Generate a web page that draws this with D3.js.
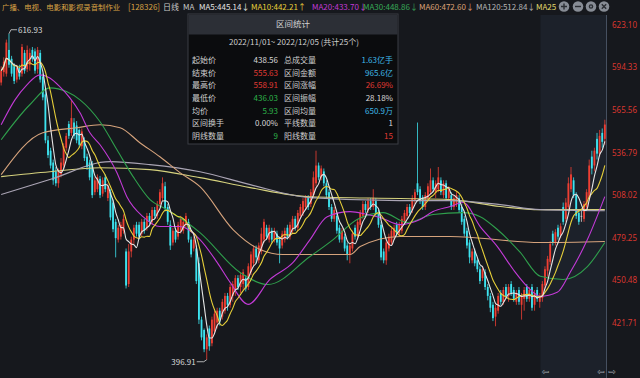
<!DOCTYPE html>
<html>
<head>
<meta charset="utf-8">
<script src="https://cdn.jsdelivr.net/npm/d3@7"></script>
<style>
  html, body { margin: 0; padding: 0; background: #16181d; }
  svg { display: block; font-family: "Noto Sans CJK SC", "Noto Sans", sans-serif; }
</style>
</head>
<body>
<svg id="chart" width="640" height="378"></svg>
<script>
// price labels on the right axis
const yTicks = [623.10, 594.33, 565.56, 536.79, 508.02, 479.25, 450.48, 421.71];

// daily bars, oldest first: [open, high, low, close]
const candles = [
  [584,595,582,592],[591,601,588,598],[590,613,588,611],[606,616.93,594,596],[600,602,588,590],
  [595,597,583,585],[586,596,584,594],[594,596,586,588],[590,610,588,608],[604,606,590,592],
  [593,609,591,606],[596,607,592,604],[606,608,598,600],[605,607,590,592],[593,608,590,606],
  [604,606,584,586],[588,590,572,574],[576,580,543,545],[545,548,533,535],[538,540,526,528],
  [530,532,515,518],[524,527,514,516],[516,526,513,524],[522,533,520,530],[528,543,526,541],
  [540,550,538,548],[556,558,546,548],[550,572,548,560],[557,560,546,548],[555,558,543,545],
  [552,553,540,542],[541,553,539,551],[545,547,531,533],[534,536,525,527],[530,532,518,520],
  [529,531,506,508],[510,520,508,518],[512,522,510,520],[519,521,506,508],[509,520,507,518],
  [520,522,510,512],[506,516,504,514],[510,512,491,493],[503,505,483,485],[490,492,466,479],
  [478,488,476,486],[480,490,478,488],[484,495,482,492],[470,472,445,447],[448,475,446,470],
  [470,480,466,478],[478,488,475,486],[488,490,480,482],[488,490,478,480],[482,492,480,490],
  [490,492,482,484],[486,496,484,494],[494,496,488,490],[490,500,488,498],[498,500,492,494],
  [494,504,492,502],[502,512,500,510],[506,520,504,516],[514,517,497,499],[500,502,488,490],
  [488,491,471,474],[476,486,474,484],[484,486,476,478],[480,490,478,488],[484,494,482,492],
  [484,492,482,490],[488,496,486,494],[490,492,476,478],[478,480,466,468],[472,480,470,478],
  [472,474,448,450],[462,466,421,424],[424,426,410,412],[417,418,402,404],[404,414,396.91,412],
  [418,420,403,406],[408,426,406,424],[416,430,414,428],[422,432,418,430],[430,432,420,424],
  [426,438,424,436],[430,442,428,440],[440,442,430,434],[434,448,432,446],[440,450,436,448],
  [444,454,440,452],[452,454,444,446],[446,456,442,454],[448,458,444,456],[452,454,443,445],
  [446,462,444,460],[456,470,454,468],[462,474,460,472],[472,474,462,466],[464,476,462,474],
  [470,486,468,482],[478,492,476,490],[486,488,478,480],[478,488,476,486],[484,486,476,478],
  [478,486,476,484],[482,484,474,476],[478,480,462,472],[474,484,472,482],[478,486,476,484],
  [486,488,478,480],[480,490,478,488],[484,494,482,492],[492,494,484,486],[486,498,484,496],
  [494,502,492,500],[496,506,494,504],[500,508,498,506],[506,508,498,500],[502,512,500,510],
  [508,524,506,520],[516,538,514,528],[528,530,518,520],[520,528,518,526],[524,526,514,516],
  [516,518,506,508],[510,512,498,500],[500,502,490,492],[492,500,490,498],[494,496,482,484],
  [486,488,476,478],[478,486,476,484],[480,482,470,472],[474,476,464,468],[468,476,462,474],
  [472,484,470,482],[486,488,478,480],[480,492,478,490],[488,498,486,496],[494,504,492,502],
  [502,504,496,498],[498,506,496,504],[504,506,498,500],[500,512,498,506],[504,506,494,496],
  [496,498,486,488],[488,490,464,466],[470,472,462,464],[464,478,461,476],[472,482,470,480],
  [476,486,474,484],[480,488,478,486],[488,490,480,482],[482,490,480,488],[484,494,482,492],
  [490,498,488,496],[494,502,492,500],[500,502,494,496],[498,508,496,506],[504,512,502,510],
  [516,557,508,510],[512,514,502,504],[506,508,498,500],[500,510,498,508],[506,516,504,514],
  [510,526,508,518],[518,520,510,512],[510,518,506,516],[512,527,510,520],[518,520,508,510],
  [508,518,506,516],[516,518,504,506],[506,514,504,512],[508,510,498,500],[500,508,498,506],
  [502,510,500,508],[506,508,496,498],[500,502,488,490],[492,494,480,482],[484,486,472,474],
  [476,478,462,466],[464,472,462,470],[470,472,460,462],[464,466,456,458],[458,460,448,450],
  [452,460,450,458],[456,458,444,446],[446,448,437,440],[440,442,429,432],[434,436,423,425],
  [426,434,419.5,432],[430,442,428,440],[442,444,434,436],[436,446,434,444],[446,448,438,440],
  [440,448,436,446],[448,450,440,442],[444,446,436,438],[436,444,434,442],[444,446,434,436],
  [434,442,424,440],[438,446,430,444],[446,448,436,438],[438,446,436,444],[446,448,430,432],
  [434,444,430,442],[444,446,436,438],[436,442,432,440],
  // 2022/11/01 - 2022/12/05
  [438.56,450,436.03,448],[447,460,445,458],[457,467,453,465],[463,477,461,475],[482,484,474,476],
  [476,485,474,483],[486,488,478,480],[481,489,479,487],[500,503,488,490],[492,506,490,503],
  [500,520,498,516],[512,527,510,522],[518,520,506,508],[508,510,492,494],[496,498,488,490],
  [494,498,490,494],[492,504,490,502],[500,512,498,510],[506,532,504,528],[534,538,522,526],
  [528,540,524,538],[546,550,532,536],[536,552,534,548],[550,553,540,544],[546,558.91,542,555.63]
];
const rangeStart = 208; // first bar of the 区间统计 range

// slower averages: [bar index, value]
const ma20Pts = [[0,555.5],[5.3,572.3],[9.9,582.4],[14.9,589.2],[18.7,587.1],[22.6,581.1],[26.4,573.7],
  [30.3,563.6],[34.1,550.1],[38,542.0],[44.5,523.1],[48.3,507.0],[54.5,493.5],[61,486.8],[68.7,486.8],
  [76.4,478.0],[83,462.6],[88,449.1],[94.9,434.3],[103.3,451.1],[112.2,462.6],[118.7,478.0],[125.3,493.5],
  [134.1,496.9],[140.7,494.9],[145.7,492.9],[153.3,488.1],[161,491.5],[166,496.9],[172.6,500.3],
  [177.6,503.0],[184.1,486.8],[190.7,473.3],[196.8,457.8],[203.3,444.4],[207.2,439.7],[213.7,442.4],
  [218.7,455.9],[225.3,478.0],[232,507.0]];
const ma30Pts = [[0,545.4],[11,569.0],[18.7,580.4],[25.3,577.7],[30.3,572.3],[38,557.5],[44.5,538.6],
  [50.7,520.5],[57.2,505.0],[63.7,498.2],[71.4,489.5],[76.4,482.7],[91.8,455.8],[102.6,447.7],
  [118.7,466.6],[127.6,478.0],[136.8,491.5],[146.8,496.2],[156,489.5],[166,494.9],[177.6,496.2],
  [184.1,493.5],[190.7,484.8],[199.5,469.3],[207.2,453.2],[216,451.1],[225.3,459.8],[232,476.0]];
const ma60Pts = [[0,521.8],[16,550.1],[29,553.5],[38,555.5],[45.7,553.5],[53.3,543.4],[61,533.9],
  [68.7,523.2],[76.4,513.7],[89.1,484.8],[99.5,471.3],[108.3,467.9],[134.1,467.9],[138,473.3],
  [153.3,480.1],[172.6,480.1],[207.2,476.0],[232,476.7]];
const ma120Pts = [[0,508.4],[18.7,518.5],[41.8,530.6],[57.2,528.6],[76.4,523.8],[95.7,515.1],
  [118.7,506.3],[153.3,504.3],[172.6,504.3],[191.8,501.6],[207.2,498.2],[232,497.5]];
const ma250Pts = [[0,520.5],[18.7,523.8],[38,526.5],[57.2,525.2],[76.4,519.8],[95.7,513.1],
  [118.7,506.9],[153.3,505.7],[172.6,505.0],[191.8,500.3],[207.2,498.2],[232,498.2]];

// header legend
const headerTexts = ['广播、电视、电影和影视录音制作业', '[128326]', '日线', 'MA',
  'MA5:445.14↓', 'MA10:442.21↑', 'MA20:433.70↓', 'MA30:448.86↓', 'MA60:472.60↓', 'MA120:512.84↓', 'MA25'];

// 区间统计 panel
const statsRange = '2022/11/01~ 2022/12/05 (共计25个)';
const statsLeftLabels = ['起始价', '结束价', '最高价', '最低价', '均价', '区间换手', '阴线数量'];
const statsLeftValues = ['438.56', '555.63', '558.91', '436.03', '5.93', '0.00%', '9'];
const statsRightLabels = ['总成交量', '区间金额', '区间涨幅', '区间振幅', '区间均量', '平线数量', '阳线数量'];
const statsRightValues = ['1.63亿手', '965.6亿', '26.69%', '28.18%', '650.9万', '1', '15'];

// ---------------------------------------------------------------

const svg = d3.select('#chart');
const plotRight = 606;

const colors = {
  up: '#ee3f33', down: '#3de3ef', flat: '#d8d8d8',
  ma5: '#e4e4e4', ma10: '#e6cf3a', ma20: '#c23ad6', ma30: '#2f9f4c',
  ma60: '#d6a37c', ma120: '#aaa4b4', ma250: '#d6d27e',
  axis: '#d9372f'
};

const x = d3.scaleBand()
  .domain(d3.range(candles.length))
  .range([0, plotRight])
  .paddingInner(0.3)
  .paddingOuter(0.1);
const xc = i => x(i) + x.bandwidth() / 2;
const xIdx = d3.scaleLinear().domain([0, candles.length - 1]).range([xc(0), xc(candles.length - 1)]);

const y = d3.scaleLinear().domain([421.71, 623.10]).range([323, 24.6]);

// background and selected range
svg.append('rect').attr('width', 640).attr('height', 378).attr('fill', '#16181d');
svg.append('rect')
  .attr('x', x(rangeStart) - 1).attr('y', 15)
  .attr('width', plotRight - x(rangeStart) + 1).attr('height', 363)
  .attr('fill', '#1c212a');
svg.append('line')
  .attr('x1', plotRight + 0.5).attr('x2', plotRight + 0.5).attr('y1', 15).attr('y2', 378)
  .attr('stroke', '#465060').attr('stroke-width', 1);

// candles
const bars = svg.append('g').selectAll('g').data(candles).join('g');
const barColor = d => d[3] > d[0] ? colors.up : d[3] < d[0] ? colors.down : colors.flat;
bars.append('line')
  .attr('x1', (d, i) => xc(i)).attr('x2', (d, i) => xc(i))
  .attr('y1', d => y(d[1])).attr('y2', d => y(d[2]))
  .attr('stroke', barColor).attr('stroke-width', 0.8);
bars.append('rect')
  .attr('x', (d, i) => x(i)).attr('width', x.bandwidth())
  .attr('y', d => y(Math.max(d[0], d[3])))
  .attr('height', d => Math.max(0.8, Math.abs(y(d[0]) - y(d[3]))))
  .attr('fill', barColor);

// moving averages
const closes = candles.map(d => d[3]);
const movingAvg = (vals, n) => vals.map((v, i) => d3.mean(vals.slice(Math.max(0, i - n + 1), i + 1)));

const lineIdx = d3.line().x(d => xIdx(d[0])).y(d => y(d[1])).curve(d3.curveMonotoneX);
const lineBar = d3.line().x((d, i) => xc(i)).y(d => y(d)).curve(d3.curveMonotoneX);

const maGroup = svg.append('g').attr('fill', 'none').attr('stroke-width', 1.1);
[[ma250Pts, colors.ma250], [ma120Pts, colors.ma120], [ma60Pts, colors.ma60],
 [ma30Pts, colors.ma30], [ma20Pts, colors.ma20]].forEach(([pts, c]) => {
  maGroup.append('path').attr('d', lineIdx(pts)).attr('stroke', c);
});
maGroup.append('path').attr('d', lineBar(movingAvg(closes, 10))).attr('stroke', colors.ma10);
maGroup.append('path').attr('d', lineBar(movingAvg(closes, 5))).attr('stroke', colors.ma5);

// highest / lowest markers
const hiIdx = d3.maxIndex(candles, d => d[1]);
const loIdx = d3.minIndex(candles, d => d[2]);
const markG = svg.append('g').attr('font-size', 8).attr('fill', '#d8d8d8');
markG.append('path')
  .attr('d', `M${xc(hiIdx)},${y(candles[hiIdx][1])} L${xc(hiIdx) + 2},${y(candles[hiIdx][1]) - 4} H${xc(hiIdx) + 8}`)
  .attr('stroke', '#d8d8d8').attr('fill', 'none').attr('stroke-width', 0.8);
markG.append('text')
  .attr('x', xc(hiIdx) + 9).attr('y', y(candles[hiIdx][1]) - 4).attr('dy', '0.35em')
  .text(d3.format('.2f')(candles[hiIdx][1]));
markG.append('path')
  .attr('d', `M${xc(loIdx)},${y(candles[loIdx][2])} L${xc(loIdx) - 3},${y(candles[loIdx][2]) + 2} H${xc(loIdx) - 10}`)
  .attr('stroke', '#d8d8d8').attr('fill', 'none').attr('stroke-width', 0.8);
markG.append('text')
  .attr('x', xc(loIdx) - 11).attr('y', y(candles[loIdx][2]) + 2).attr('dy', '0.35em')
  .attr('text-anchor', 'end')
  .text(d3.format('.2f')(candles[loIdx][2]));

// right axis
const axisG = svg.append('g')
  .attr('transform', `translate(${plotRight},0)`)
  .call(d3.axisRight(y).tickValues(yTicks).tickFormat(d3.format('.2f')).tickSize(0).tickPadding(6));
axisG.select('.domain').remove();
axisG.selectAll('text').attr('fill', colors.axis).attr('font-size', 8)
  .attr('font-family', '"Noto Sans", sans-serif');

// header legend
const headerX = [2, 128, 163, 183, 199, 251, 312, 363, 419, 476, 536];
const headerColors = ['#d8a244', '#d8a244', '#c8c8c8', '#c8c8c8', colors.ma5, colors.ma10,
  colors.ma20, '#37a957', '#dea276', '#b4b4b4', '#e3da6c'];
svg.append('g').attr('font-size', 8).selectAll('text').data(headerTexts).join('text')
  .attr('x', (d, i) => headerX[i]).attr('y', 9.5)
  .attr('fill', (d, i) => headerColors[i])
  .attr('font-size', (d, i) => i === 0 ? 7.4 : 8)
  .text(d => d);

// header buttons
const btnX = [564, 578, 591, 604];
const btnG = svg.append('g');
btnX.forEach((bx, i) => {
  btnG.append('circle').attr('cx', bx).attr('cy', 6.5).attr('r', 5.3).attr('fill', '#878c95');
  const p = d3.path();
  if (i === 0) { p.moveTo(bx - 3, 6.5); p.lineTo(bx + 3, 6.5); p.moveTo(bx, 3.5); p.lineTo(bx, 9.5); }
  if (i === 1) { p.moveTo(bx - 3, 6.5); p.lineTo(bx + 3, 6.5); }
  if (i === 3) { p.moveTo(bx - 2.2, 4.3); p.lineTo(bx + 2.2, 8.7); p.moveTo(bx + 2.2, 4.3); p.lineTo(bx - 2.2, 8.7); }
  if (i === 2) {
    btnG.append('circle').attr('cx', bx).attr('cy', 6.5).attr('r', 1.6)
      .attr('fill', 'none').attr('stroke', '#2a2d33').attr('stroke-width', 1.4);
  } else {
    btnG.append('path').attr('d', p.toString()).attr('stroke', '#2a2d33').attr('stroke-width', 1.4);
  }
});

// 区间统计 panel
const panel = svg.append('g').attr('transform', 'translate(188,14)');
panel.append('rect').attr('width', 210).attr('height', 130)
  .attr('fill', '#0b0c0e').attr('stroke', '#3a3d44').attr('stroke-width', 1);
panel.append('rect').attr('x', 0.5).attr('y', 0.5).attr('width', 209).attr('height', 20).attr('fill', '#2c2f36');
panel.append('text').attr('x', 105).attr('y', 10.5).attr('dy', '0.35em').attr('text-anchor', 'middle')
  .attr('font-size', 8.5).attr('fill', '#d4d4d4').text('区间统计');
panel.append('text').attr('x', 106).attr('y', 28).attr('dy', '0.35em').attr('text-anchor', 'middle')
  .attr('font-size', 8).attr('fill', '#cfcfcf').text(statsRange);

const rowY = i => 46 + i * 12.7;
const leftValColors = ['#d8d8d8', '#e03a33', '#e03a33', '#2db34a', '#2db34a', '#d8d8d8', '#2db34a'];
const rightValColors = ['#3fb8e6', '#3fb8e6', '#e03a33', '#d8d8d8', '#3fb8e6', '#d8d8d8', '#e03a33'];
const rows = panel.append('g').attr('font-size', 8);
statsLeftLabels.forEach((t, i) => {
  rows.append('text').attr('x', 4).attr('y', rowY(i)).attr('dy', '0.35em').attr('fill', '#cfcfcf').text(t);
  rows.append('text').attr('x', 90).attr('y', rowY(i)).attr('dy', '0.35em').attr('text-anchor', 'end')
    .attr('fill', leftValColors[i]).text(statsLeftValues[i]);
  rows.append('text').attr('x', 96).attr('y', rowY(i)).attr('dy', '0.35em').attr('fill', '#cfcfcf').text(statsRightLabels[i]);
  rows.append('text').attr('x', 205).attr('y', rowY(i)).attr('dy', '0.35em').attr('text-anchor', 'end')
    .attr('fill', rightValColors[i]).text(statsRightValues[i]);
});

// range handles at the bottom
const arrowG = svg.append('g').attr('font-size', 9).attr('fill', '#a9aeb6')
  .attr('font-family', '"DejaVu Sans", sans-serif');
arrowG.append('text').attr('x', x(rangeStart) + 4).attr('y', 375).attr('text-anchor', 'middle').text('⇦');
arrowG.append('text').attr('x', plotRight - 5).attr('y', 375).attr('text-anchor', 'middle').text('⇦');
arrowG.append('text').attr('x', plotRight + 6).attr('y', 375).attr('text-anchor', 'middle').text('⇨');
</script>
</body>
</html>
